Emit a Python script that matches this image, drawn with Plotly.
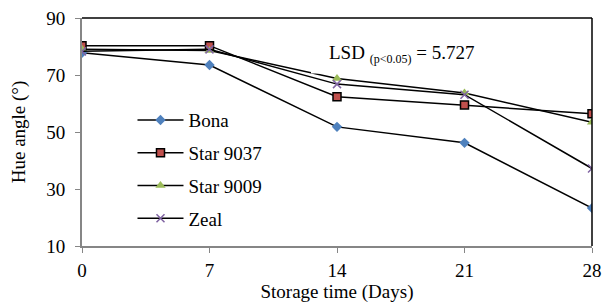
import plotly.graph_objects as go

days = [0, 7, 14, 21, 28]
bona = [77.8, 73.5, 51.8, 46.2, 23.3]
star9037 = [80.3, 80.3, 62.4, 59.5, 56.4]
star9009 = [79.0, 78.6, 68.8, 63.7, 53.4]
zeal = [78.3, 79.0, 66.8, 63.1, 37.2]

x_ticks = [0, 7, 14, 21, 28]
y_ticks = [10, 30, 50, 70, 90]

FONT = "Liberation Serif, Times New Roman, serif"
FS = 19

series = [
    ("Bona", bona, dict(symbol="diamond", size=8, color="#4F81BD", line=dict(width=0))),
    ("Star 9037", star9037, dict(symbol="square", size=8, color="#C0504D", line=dict(width=1.5, color="black"))),
    ("Star 9009", star9009, dict(symbol="triangle-up", size=9, color="#9BBB59", line=dict(width=0))),
    ("Zeal", zeal, dict(symbol="x-thin", size=8, color="#8064A2", line=dict(width=1.5, color="#8064A2"))),
]

fig = go.Figure()
for i, (name, vals, mk) in enumerate(series):
    fig.add_trace(go.Scatter(
        x=days, y=vals, name=name, mode="lines+markers",
        line=dict(color="black", width=1.5),
        marker=mk, legendgroup=f"g{i}",
    ))

fig.update_layout(
    width=607, height=305,
    margin=dict(l=82, r=15, t=18, b=59, autoexpand=False),
    paper_bgcolor="white", plot_bgcolor="white",
    font=dict(family=FONT, size=FS, color="black"),
    showlegend=True,
    legend=dict(x=0.099, y=0.635, xanchor="left", yanchor="top",
                bgcolor="rgba(0,0,0,0)", font=dict(size=FS, family=FONT, color="black"),
                tracegroupgap=5, itemwidth=46),
    xaxis=dict(range=[0, 28], tickvals=x_ticks, ticks="outside", ticklen=5,
               tickcolor="#868686", showline=True, linecolor="#868686", linewidth=2,
               showgrid=False, zeroline=False, automargin=False,
               tickfont=dict(family=FONT, size=FS), ticklabelstandoff=1,
               title=dict(text="Storage time (Days)", font=dict(size=FS, family=FONT), standoff=3)),
    yaxis=dict(range=[10, 90], tickvals=y_ticks, ticks="outside", ticklen=5,
               tickcolor="#868686", showline=True, linecolor="#868686", linewidth=2,
               showgrid=False, zeroline=False, automargin=False,
               tickfont=dict(family=FONT, size=FS), ticklabelstandoff=6,
               title=dict(text="Hue angle (°)", font=dict(size=FS, family=FONT), standoff=16)),
    annotations=[dict(
        text="LSD <sub><span style='font-size:12px'>(p<0.05)</span></sub> = 5.727",
        xref="paper", yref="paper",
        x=0.627, y=0.903, showarrow=False, font=dict(size=FS, family=FONT, color="black"),
    )],
    shapes=[
        dict(type="rect", xref="paper", yref="paper", x0=0.449, x1=0.8, y0=0.757, y1=0.93,
             fillcolor="white", line=dict(width=0), layer="above"),
        dict(type="line", xref="paper", yref="paper", x0=0, x1=1, y0=1, y1=1,
             line=dict(color="black", width=1.5)),
        dict(type="line", xref="paper", yref="paper", x0=1, x1=1, y0=0, y1=1,
             line=dict(color="black", width=1.5)),
    ],
)

fig.write_html(
    "out.html",
    config={"displayModeBar": False},
    post_script="document.body.style.margin='0';document.body.style.overflow='hidden';document.documentElement.style.overflow='hidden';",
)
